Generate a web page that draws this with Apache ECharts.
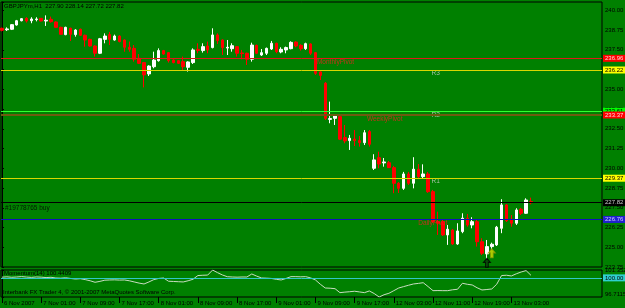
<!DOCTYPE html>
<html><head><meta charset="utf-8">
<script src="https://cdn.jsdelivr.net/npm/echarts@6/dist/echarts.min.js"></script>
<style>html,body{margin:0;padding:0;background:#008000}#c{width:625px;height:308px}</style>
</head><body><div id="c"></div>
<script>
// ---- data ----
const opens=[238.86,238.77,238.80,239.07,239.34,239.49,239.34,239.41,239.49,239.32,239.43,239.26,238.92,238.46,238.86,238.46,238.80,238.42,238.16,237.74,237.28,238.16,238.46,238.12,238.37,238.12,237.66,237.59,236.96,236.69,235.97,236.43,236.81,237.45,237.32,236.85,236.81,236.75,236.39,236.69,237.53,237.45,237.74,237.64,238.44,238.12,237.61,237.57,237.70,237.30,237.28,236.90,237.78,237.17,237.28,237.55,237.91,237.36,237.49,237.57,237.99,237.78,237.57,237.87,237.32,236.10,235.38,233.09,233.16,233.27,231.94,231.75,231.85,231.75,231.62,232.32,230.00,230.67,230.34,230.35,230.04,229.05,228.73,229.64,229.05,229.94,229.47,229.64,228.52,226.62,226.62,225.78,226.09,225.21,225.99,226.84,226.41,226.62,225.35,224.58,225.04,225.15,226.20,227.68,226.77,226.52,227.41,227.15,227.90];
const closes=[238.73,238.82,239.09,239.34,239.47,239.32,239.45,239.45,239.32,239.37,239.28,238.92,238.48,238.92,238.48,238.75,238.42,238.12,237.74,237.28,238.20,238.37,238.16,238.37,238.02,237.66,237.53,236.90,236.64,235.91,236.47,236.85,237.45,237.23,236.81,236.69,236.64,236.43,236.73,237.49,237.45,237.70,237.49,238.44,238.08,237.64,237.66,237.76,237.28,237.26,236.90,237.80,237.28,237.32,237.59,237.91,237.38,237.53,237.64,237.97,237.74,237.57,237.89,237.28,236.01,235.88,233.16,233.15,233.31,231.84,231.73,231.90,231.75,231.62,232.25,231.52,230.53,230.27,230.40,230.04,229.05,228.73,229.64,229.05,229.94,229.47,229.64,228.52,226.62,226.52,225.78,226.14,225.21,226.03,226.84,226.41,226.62,225.35,224.62,225.04,225.19,226.27,227.68,226.68,226.52,227.36,227.15,227.99,227.82];
const highs=[238.90,238.92,239.13,239.39,239.51,239.56,239.56,239.56,239.51,239.68,239.60,239.30,238.96,238.96,238.90,238.80,238.84,238.46,238.20,237.78,238.25,238.54,238.63,238.46,238.42,238.16,238.02,237.80,237.23,236.73,236.52,237.38,237.59,237.49,237.36,236.90,236.85,237.07,236.77,237.59,237.91,237.91,238.02,238.86,238.54,238.16,238.12,237.91,237.74,237.49,237.32,237.95,237.83,237.55,237.64,238.06,237.95,237.66,237.70,238.04,238.04,237.85,237.95,237.91,237.36,236.14,235.46,234.22,233.37,233.37,232.74,232.11,232.42,232.04,232.42,232.42,230.89,231.05,230.65,230.46,230.15,229.13,229.77,229.77,230.70,230.27,230.25,229.77,228.63,227.25,226.73,226.41,226.16,226.52,227.15,227.11,226.90,226.73,225.57,225.46,225.29,226.35,228.04,227.74,227.04,227.47,227.49,228.10,228.14];
const lows=[238.67,238.69,238.75,239.03,239.30,239.22,239.18,239.30,239.30,239.01,239.22,238.90,238.46,238.42,238.06,238.33,238.37,237.70,237.70,237.07,237.23,237.91,237.80,238.08,237.97,237.38,237.38,236.75,236.60,235.12,235.84,236.33,236.75,237.19,236.69,236.64,236.60,236.22,236.12,236.60,237.28,237.32,237.28,237.59,237.87,237.17,237.17,237.38,237.07,236.90,236.54,236.75,237.23,237.11,237.17,237.49,237.28,237.28,237.28,237.53,237.66,237.45,237.49,237.17,235.91,235.59,233.06,232.85,232.74,231.79,231.58,231.16,231.41,231.37,231.47,231.37,229.89,230.00,230.10,230.02,228.42,228.44,228.63,228.94,228.73,229.37,229.37,228.44,226.54,225.78,225.72,225.15,225.15,225.15,225.89,226.30,226.20,225.04,224.51,224.20,224.87,225.08,225.89,226.60,226.30,226.41,227.04,227.11,227.72];
const momentum=[100.12,100.18,100.10,100.15,100.22,100.14,100.08,100.16,100.12,100.05,100.10,99.98,99.95,100.02,99.90,99.80,99.86,99.70,99.50,99.24,99.40,99.60,99.64,99.66,99.62,99.64,99.50,99.30,99.10,98.95,99.30,99.70,99.90,99.98,99.42,99.38,99.34,99.30,99.50,99.76,100.40,100.45,100.48,101.35,100.90,100.50,100.20,100.15,100.12,100.15,100.15,100.67,100.30,99.98,99.95,99.90,99.75,99.64,99.90,100.21,100.21,100.18,100.21,100.00,99.64,98.90,98.26,98.22,98.14,97.46,97.55,97.62,97.70,97.58,97.46,97.75,97.30,96.71,97.10,97.35,97.80,98.26,98.50,98.73,98.95,99.05,99.17,98.50,97.80,97.82,97.80,97.80,97.95,98.04,99.07,98.90,98.78,98.30,97.92,98.00,98.09,98.90,100.40,100.45,100.33,100.70,101.01,101.25,100.44];
const tickBars=[0,8,16,24,32,40,48,56,64,72,80,88,96,104];
const tickLabels=['6 Nov 2007','7 Nov 01:00','7 Nov 09:00','7 Nov 17:00','8 Nov 01:00','8 Nov 09:00','8 Nov 17:00','9 Nov 01:00','9 Nov 09:00','9 Nov 17:00','12 Nov 03:00','12 Nov 11:00','12 Nov 19:00','13 Nov 03:00'];
const levelValues=[236.96,236.22,233.61,233.37,229.37,227.82,226.76];
const momentumLevel=100;
const momentumMin=96.7115, momentumMax=101.3527;
const priceMin=223.75, priceMax=240.525, priceStep=1.25;
const barMin=-0.2, barMax=122.5;
const noteTexts=['MonthlyPivot','WeeklyPivot','DailyPivot','R3','R2','R1','#19778765 buy'];
const noteBars=[64.3,74.5,85,87.7,87.7,87.7,0.6];
const notePrices=[236.71,233.12,226.55,235.99,233.37,229.15,227.47];
const arrowBars=[100,99];
const arrowPrices=[224.62,224.02];
const titleText='GBPJPYm,H1  227.90 228.14 227.72 227.82';
const momentumTitle='Momentum(14) 100.4409';
const footerText='Interbank FX Trader 4, \u00a9 2001-2007 MetaQuotes Software Corp.';

// ---- styles ----
const FONT='Liberation Sans';
const FS=6;
const levelStyles=[
 {line:'#e01818',width:1,box:'#ff0000',text:'#ffd8d8'},
 {line:'#d8d800',width:1,box:'#ffff00',text:'#000000'},
 {line:'#30ff30',width:1,box:'#00ff00',text:'#000000'},
 {line:'#6e5a10',width:2,box:'#ff0000',text:'#ffd8d8'},
 {line:'#d8d800',width:1,box:'#ffff00',text:'#000000'},
 {line:'#000000',width:1,box:'#000000',text:'#c8c8c8'},
 {line:'#1010c0',width:1,box:'#2020d0',text:'#d0d0ff'}
];
const noteColors=['#f02020','#f02020','#f02020','#d0d0d0','#d0d0d0','#d0d0d0','#000000'];
const arrowColors=['#d8e000','#0a3a0a'];
const arrowBorders=['#8a9a00','#000000'];

const candleData=opens.map((o,i)=>[i,o,closes[i],lows[i],highs[i]]);
const momData=momentum.map((v,i)=>[i,v]);

const levelLines=levelValues.map((v,i)=>({
  yAxis:v,
  lineStyle:{color:levelStyles[i].line,width:levelStyles[i].width,type:'solid'},
  label:{show:true,position:'end',distance:1,formatter:v.toFixed(2),backgroundColor:levelStyles[i].box,
    color:levelStyles[i].text,padding:[1,2,0,2],fontSize:FS,fontFamily:FONT}
}));

const arrowPath='path://M5,0 L10,5 L7,5 L7,11 L3,11 L3,5 L0,5 Z';

const option={
  backgroundColor:'#008000',
  animation:false,
  textStyle:{fontFamily:FONT},
  title:[
    {text:titleText,left:4,top:3,padding:0,textStyle:{fontSize:FS,color:'#000',fontWeight:'normal',fontFamily:FONT}},
    {text:momentumTitle,left:4,top:270,padding:0,textStyle:{fontSize:FS,color:'#000',fontWeight:'normal',fontFamily:FONT}},
    {text:footerText,left:3,top:289,padding:0,textStyle:{fontSize:FS,color:'#000',fontWeight:'normal',fontFamily:FONT}}
  ],
  grid:[
    {left:1,top:2,width:601,height:265,show:true,borderColor:'#000',borderWidth:1,backgroundColor:'transparent',containLabel:false,outerBoundsMode:'none'},
    {left:1,top:270,width:601,height:27,show:true,borderColor:'#000',borderWidth:1,backgroundColor:'transparent',containLabel:false,outerBoundsMode:'none'}
  ],
  xAxis:[
    {type:'value',gridIndex:0,min:barMin,max:barMax,show:false},
    {type:'value',gridIndex:1,min:barMin,max:barMax,position:'bottom',
     axisLine:{show:false},splitLine:{show:false},
     axisTick:{show:true,length:6,customValues:tickBars,lineStyle:{color:'#000'}},
     axisLabel:{show:true,customValues:tickBars,align:'left',margin:3,padding:[0,0,0,2],fontSize:6,color:'#000',fontFamily:FONT,
       hideOverlap:false,formatter:v=>{const k=tickBars.indexOf(v);return k>=0?tickLabels[k]:'';}}}
  ],
  yAxis:[
    {type:'value',gridIndex:0,position:'right',min:priceMin,max:priceMax,interval:priceStep,
     axisLine:{show:true,lineStyle:{color:'#000'}},splitLine:{show:false},
     axisTick:{show:true,length:2,lineStyle:{color:'#000'}},
     axisLabel:{fontSize:FS,color:'#000',margin:3,fontFamily:FONT,
       formatter:v=>{const r=v/priceStep;return Math.abs(r-Math.round(r))<1e-6?v.toFixed(2):'';}}},
    {type:'value',gridIndex:1,position:'right',min:momentumMin,max:momentumMax,
     axisLine:{show:true,lineStyle:{color:'#000'}},splitLine:{show:false},
     axisTick:{show:true,length:2,customValues:[momentumMin,momentumMax],lineStyle:{color:'#000'}},
     axisLabel:{customValues:[momentumMin,momentumMax],showMaxLabel:true,showMinLabel:true,fontSize:FS,color:'#000',margin:3,fontFamily:FONT,
       verticalAlignMinLabel:'bottom',verticalAlignMaxLabel:'middle',formatter:v=>v.toFixed(4)}}
  ],
  series:[
    {type:'candlestick',xAxisIndex:0,yAxisIndex:0,data:candleData,encode:{x:0,y:[1,2,3,4]},barWidth:3,
     itemStyle:{color:'#ffffff',color0:'#ff0000',borderColor:'#ffffff',borderColor0:'#ff0000',borderWidth:1},
     markLine:{silent:true,symbol:'none',animation:false,data:levelLines}},
    {type:'scatter',xAxisIndex:0,yAxisIndex:0,symbolSize:0,silent:true,
     data:noteTexts.map((t,i)=>({value:[noteBars[i],notePrices[i]],
       label:{show:true,position:'right',distance:0,formatter:t,color:noteColors[i],fontSize:FS+0.5,fontFamily:FONT}}))},
    {type:'scatter',xAxisIndex:0,yAxisIndex:0,symbol:arrowPath,symbolSize:[7,9],silent:true,
     data:arrowBars.map((b,i)=>({value:[b,arrowPrices[i]],itemStyle:{color:arrowColors[i],borderColor:arrowBorders[i],borderWidth:1}}))},
    {type:'line',xAxisIndex:1,yAxisIndex:1,data:momData,showSymbol:false,silent:true,
     lineStyle:{color:'#c8dcc0',width:1},
     markLine:{silent:true,symbol:'none',animation:false,data:[{yAxis:momentumLevel,
       lineStyle:{color:'#30c8c8',width:1,type:'solid'},
       label:{show:true,position:'end',distance:1,formatter:momentumLevel.toFixed(2),backgroundColor:'#30d0d0',color:'#000',padding:[1,2,0,2],fontSize:FS,fontFamily:FONT}}]}}
  ]
};
const chart=echarts.init(document.getElementById('c'),null,{renderer:'canvas'});
chart.setOption(option);
</script></body></html>
